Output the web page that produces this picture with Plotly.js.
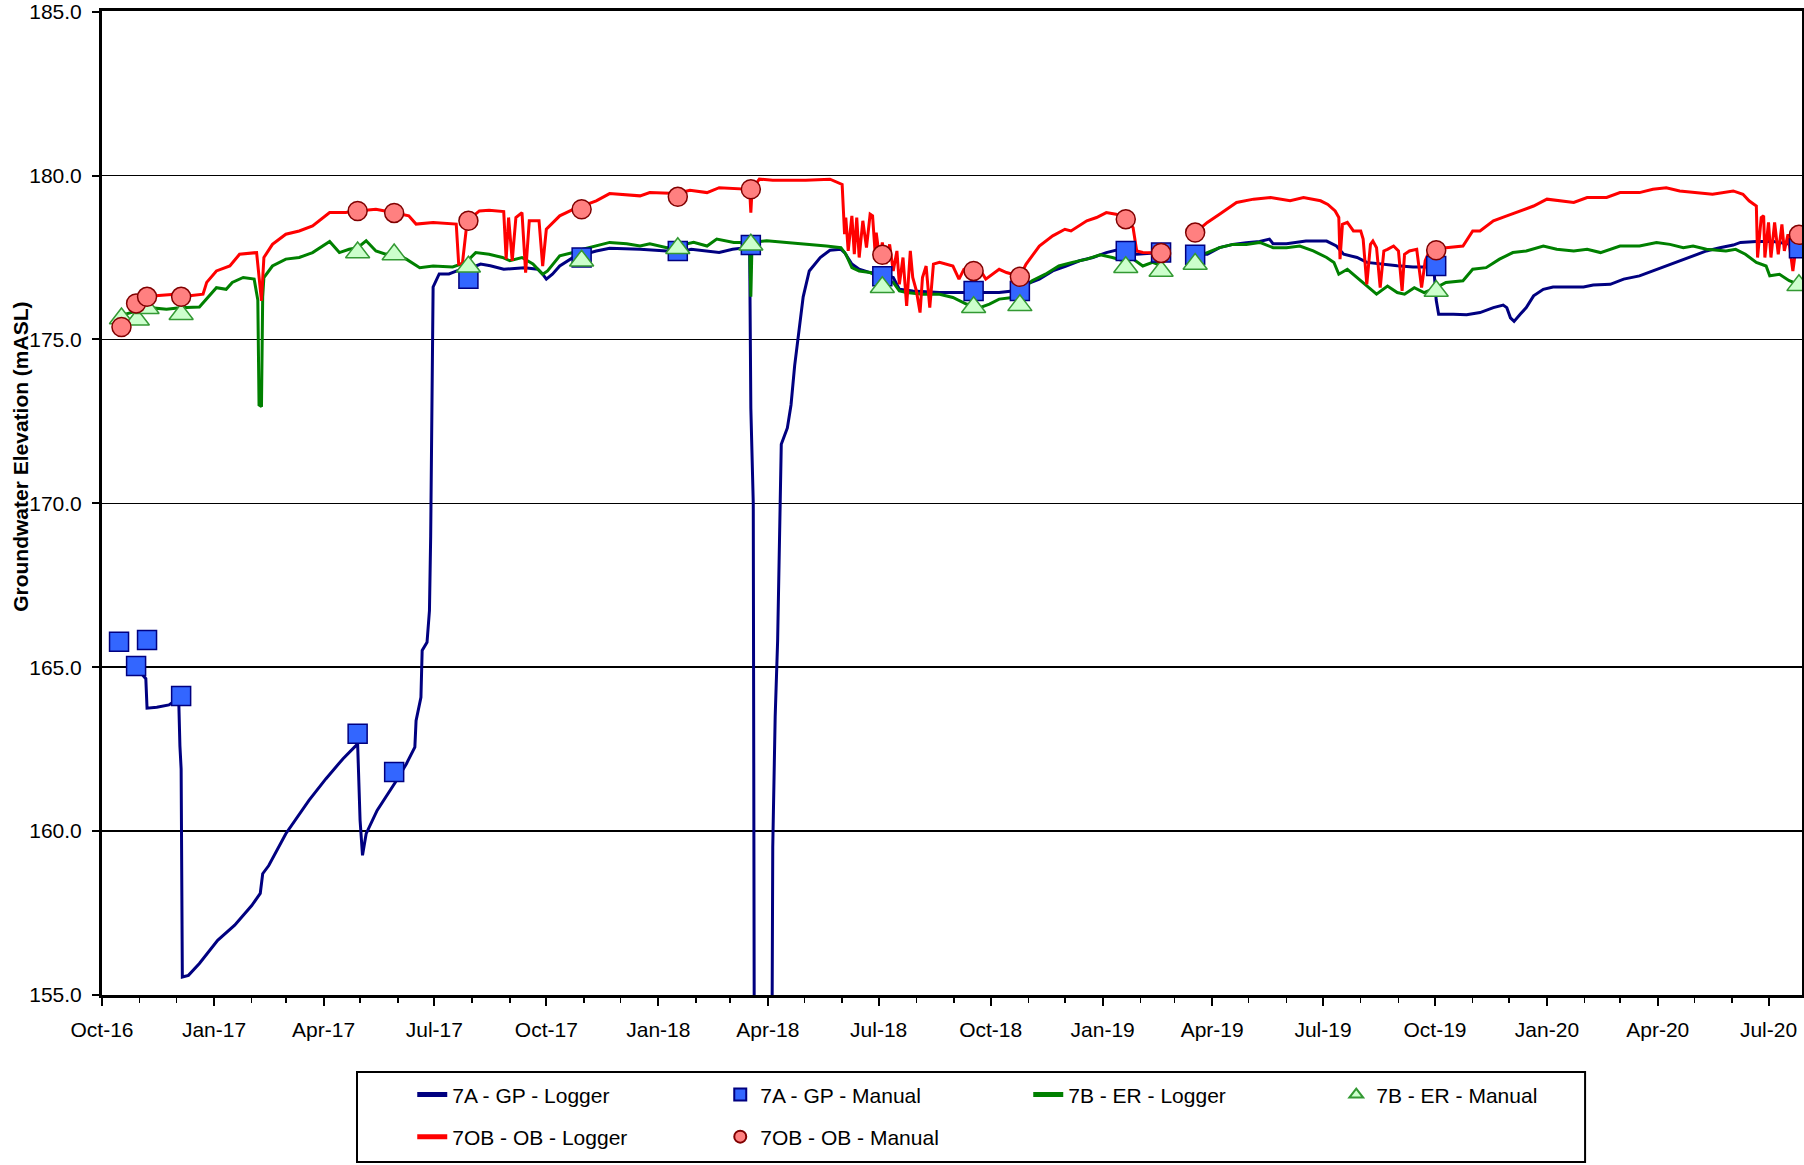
<!DOCTYPE html>
<html>
<head>
<meta charset="utf-8">
<script src="https://cdn.plot.ly/plotly-3.0.1.min.js"></script>
<style>
html, body { margin: 0; padding: 0; background: #fff; }
#chart { width: 1804px; height: 1165px; }
</style>
</head>
<body>
<div id="chart"></div>
<script>
// ---------- DATA ----------
const gpLoggerDates = ['2016-10-29','2016-11-06','2016-11-07','2016-11-15','2016-11-25','2016-12-03','2016-12-04','2016-12-05','2016-12-06','2016-12-11','2016-12-20','2017-01-04','2017-01-18','2017-02-01','2017-02-08','2017-02-10','2017-02-15','2017-03-01','2017-03-20','2017-04-03','2017-04-17','2017-04-29','2017-05-01','2017-05-03','2017-05-06','2017-05-15','2017-05-30','2017-06-08','2017-06-15','2017-06-16','2017-06-20','2017-06-21','2017-06-25','2017-06-27','2017-06-28','2017-06-29','2017-06-30','2017-07-05','2017-07-13','2017-07-20','2017-07-29','2017-08-08','2017-08-16','2017-08-27','2017-09-13','2017-09-24','2017-09-28','2017-10-01','2017-10-06','2017-10-12','2017-10-23','2017-11-11','2017-11-22','2017-12-17','2018-01-08','2018-01-17','2018-01-28','2018-02-20','2018-03-03','2018-03-14','2018-03-17','2018-03-18','2018-03-20','2018-03-21','2018-04-04','2018-04-05','2018-04-07','2018-04-09','2018-04-11','2018-04-12','2018-04-17','2018-04-20','2018-04-23','2018-04-30','2018-05-05','2018-05-14','2018-05-22','2018-05-31','2018-06-03','2018-06-09','2018-06-15','2018-06-24','2018-07-04','2018-07-13','2018-07-18','2018-07-29','2018-08-20','2018-09-11','2018-10-08','2018-10-19','2018-10-30','2018-11-10','2018-11-21','2018-12-02','2018-12-13','2018-12-24','2019-01-04','2019-01-15','2019-01-29','2019-02-18','2019-03-01','2019-03-18','2019-03-28','2019-04-07','2019-04-18','2019-04-29','2019-05-10','2019-05-18','2019-05-21','2019-06-01','2019-06-17','2019-07-04','2019-07-12','2019-07-18','2019-07-29','2019-08-06','2019-08-17','2019-08-31','2019-09-13','2019-09-30','2019-10-02','2019-10-04','2019-10-16','2019-10-27','2019-11-07','2019-11-18','2019-11-26','2019-11-29','2019-12-02','2019-12-05','2019-12-10','2019-12-15','2019-12-21','2019-12-29','2020-01-06','2020-01-17','2020-01-31','2020-02-08','2020-02-22','2020-03-04','2020-03-17','2020-03-28','2020-04-08','2020-04-19','2020-04-30','2020-05-11','2020-05-22','2020-06-02','2020-06-08','2020-06-21','2020-07-05','2020-07-19','2020-07-26','2020-07-28'];
const gpLoggerLevels = [165.0,164.65,163.75,163.78,163.85,164.05,162.6,161.9,155.55,155.6,155.96,156.67,157.13,157.73,158.1,158.7,158.95,159.92,160.94,161.6,162.21,162.66,160.33,159.26,159.92,160.63,161.49,162.05,162.56,163.37,164.08,165.51,165.76,166.73,169.0,172.0,176.6,177.0,177.0,177.1,177.15,177.3,177.25,177.14,177.19,177.14,176.99,176.84,176.99,177.24,177.5,177.7,177.78,177.75,177.7,177.65,177.75,177.65,177.75,177.8,177.85,172.9,170.0,150.0,150.0,159.5,163.5,165.8,170.4,171.8,172.3,173.0,174.2,176.3,177.09,177.5,177.72,177.75,177.65,177.3,177.14,177.04,176.99,176.89,176.53,176.48,176.43,176.43,176.43,176.48,176.68,176.84,177.09,177.24,177.4,177.5,177.65,177.75,177.6,177.65,null,177.6,177.6,177.8,177.9,177.95,177.99,178.06,177.92,177.92,178.0,178.0,177.85,177.6,177.5,177.35,177.3,177.25,177.21,177.21,176.2,175.77,175.77,175.75,175.82,175.97,176.05,175.97,175.66,175.55,175.77,175.97,176.33,176.53,176.6,176.6,176.6,176.66,176.68,176.84,176.94,177.09,177.24,177.4,177.55,177.7,177.8,177.88,177.96,177.99,177.99,177.9,177.8,177.8];

const erLoggerDates = ['2016-10-15','2016-10-29','2016-11-09','2016-11-23','2016-12-04','2016-12-20','2016-12-26','2017-01-03','2017-01-11','2017-01-16','2017-01-25','2017-02-03','2017-02-06','2017-02-07','2017-02-09','2017-02-10','2017-02-11','2017-02-18','2017-03-01','2017-03-12','2017-03-23','2017-04-06','2017-04-14','2017-04-22','2017-04-29','2017-05-06','2017-05-14','2017-05-22','2017-05-28','2017-06-08','2017-06-19','2017-06-30','2017-07-16','2017-07-27','2017-08-04','2017-08-15','2017-08-26','2017-09-01','2017-09-11','2017-09-20','2017-09-28','2017-10-02','2017-10-12','2017-10-23','2017-10-31','2017-11-11','2017-11-22','2017-12-06','2017-12-17','2017-12-25','2018-01-08','2018-01-17','2018-01-30','2018-02-10','2018-02-18','2018-03-04','2018-03-17','2018-03-18','2018-03-19','2018-03-31','2018-04-16','2018-05-02','2018-05-19','2018-05-31','2018-06-04','2018-06-09','2018-06-15','2018-06-24','2018-07-05','2018-07-13','2018-07-18','2018-07-24','2018-08-06','2018-08-20','2018-08-31','2018-09-11','2018-09-22','2018-09-30','2018-10-08','2018-10-19','2018-10-25','2018-11-04','2018-11-15','2018-11-26','2018-12-07','2018-12-19','2018-12-30','2019-01-09','2019-01-18','2019-01-26','2019-02-03','2019-02-11','2019-02-18','2019-03-01','2019-03-18','2019-03-28','2019-04-07','2019-04-18','2019-04-29','2019-05-10','2019-05-21','2019-06-01','2019-06-12','2019-06-23','2019-07-04','2019-07-10','2019-07-14','2019-07-21','2019-07-29','2019-08-06','2019-08-14','2019-08-23','2019-08-31','2019-09-06','2019-09-14','2019-09-22','2019-10-02','2019-10-10','2019-10-24','2019-11-01','2019-11-12','2019-11-23','2019-12-04','2019-12-15','2019-12-29','2020-01-09','2020-01-23','2020-02-03','2020-02-14','2020-03-01','2020-03-17','2020-03-31','2020-04-11','2020-04-22','2020-04-30','2020-05-11','2020-05-27','2020-06-04','2020-06-12','2020-06-21','2020-06-29','2020-07-02','2020-07-10','2020-07-18','2020-07-26','2020-07-28'];
const erLoggerLevels = [175.72,175.87,175.97,175.92,175.97,175.99,176.23,176.58,176.53,176.74,176.89,176.84,176.2,173.0,172.95,176.3,176.89,177.24,177.45,177.5,177.65,177.99,177.65,177.75,177.8,178.01,177.7,177.6,177.65,177.45,177.19,177.24,177.21,177.35,177.65,177.6,177.5,177.4,177.5,177.3,176.99,177.09,177.55,177.65,177.75,177.85,177.96,177.92,177.85,177.92,177.8,177.85,177.96,177.85,178.06,177.96,177.96,176.3,177.96,178.01,177.96,177.92,177.85,177.8,177.6,177.19,177.09,177.04,176.84,176.74,176.48,176.43,176.38,176.38,176.28,176.08,175.97,176.08,176.23,176.28,176.48,176.79,176.99,177.24,177.35,177.45,177.58,177.5,177.4,177.45,177.24,177.35,177.25,null,177.5,177.65,177.8,177.9,177.9,177.96,177.8,177.8,177.85,177.7,177.5,177.35,176.99,177.14,176.89,176.63,176.38,176.63,176.43,176.38,176.58,176.43,176.58,176.74,176.79,177.14,177.19,177.45,177.65,177.7,177.85,177.75,177.7,177.75,177.65,177.85,177.85,177.96,177.9,177.8,177.85,177.75,177.7,177.75,177.6,177.35,177.24,176.94,176.99,176.79,176.68,176.65];

const obLoggerDates = ['2016-10-29','2016-11-14','2016-11-30','2016-12-12','2016-12-23','2016-12-26','2017-01-03','2017-01-14','2017-01-22','2017-02-05','2017-02-09','2017-02-11','2017-02-18','2017-03-01','2017-03-12','2017-03-23','2017-04-06','2017-04-19','2017-04-29','2017-05-14','2017-05-28','2017-06-10','2017-06-16','2017-06-30','2017-07-19','2017-07-21','2017-07-24','2017-07-28','2017-08-07','2017-08-15','2017-08-27','2017-08-29','2017-08-31','2017-09-03','2017-09-06','2017-09-11','2017-09-14','2017-09-17','2017-09-25','2017-09-28','2017-10-01','2017-10-12','2017-10-23','2017-11-11','2017-11-22','2017-12-17','2017-12-25','2018-01-16','2018-01-27','2018-02-10','2018-02-20','2018-03-09','2018-03-17','2018-03-18','2018-03-19','2018-03-25','2018-04-05','2018-05-02','2018-05-22','2018-06-01','2018-06-03','2018-06-04','2018-06-06','2018-06-09','2018-06-11','2018-06-13','2018-06-15','2018-06-18','2018-06-21','2018-06-24','2018-06-26','2018-06-28','2018-06-29','2018-07-02','2018-07-04','2018-07-07','2018-07-10','2018-07-13','2018-07-16','2018-07-18','2018-07-21','2018-07-24','2018-07-27','2018-07-29','2018-08-01','2018-08-04','2018-08-06','2018-08-09','2018-08-12','2018-08-15','2018-08-20','2018-08-31','2018-09-05','2018-09-09','2018-09-17','2018-09-22','2018-09-27','2018-10-08','2018-10-14','2018-10-19','2018-10-25','2018-10-30','2018-11-10','2018-11-21','2018-12-01','2018-12-06','2018-12-19','2018-12-27','2019-01-04','2019-01-12','2019-01-19','2019-01-26','2019-01-29','2019-02-03','2019-02-11','2019-02-18','2019-03-01','2019-03-18','2019-03-28','2019-04-07','2019-04-21','2019-05-05','2019-05-19','2019-06-04','2019-06-15','2019-06-29','2019-07-05','2019-07-11','2019-07-14','2019-07-15','2019-07-17','2019-07-21','2019-07-26','2019-08-01','2019-08-03','2019-08-06','2019-08-09','2019-08-11','2019-08-14','2019-08-17','2019-08-20','2019-08-23','2019-08-28','2019-09-01','2019-09-04','2019-09-06','2019-09-10','2019-09-16','2019-09-19','2019-09-20','2019-09-23','2019-09-27','2019-10-02','2019-10-10','2019-10-24','2019-11-01','2019-11-07','2019-11-18','2019-11-29','2019-12-10','2019-12-21','2020-01-01','2020-01-12','2020-01-23','2020-02-03','2020-02-19','2020-03-01','2020-03-17','2020-03-28','2020-04-08','2020-04-19','2020-05-05','2020-05-16','2020-06-02','2020-06-10','2020-06-15','2020-06-21','2020-06-22','2020-06-25','2020-06-27','2020-06-28','2020-07-01','2020-07-03','2020-07-06','2020-07-09','2020-07-12','2020-07-14','2020-07-17','2020-07-21','2020-07-25','2020-07-28'];
const obLoggerLevels = [176.1,176.33,176.38,176.33,176.38,176.74,177.09,177.24,177.6,177.65,176.18,177.5,177.9,178.21,178.31,178.46,178.87,178.87,178.92,178.97,178.87,178.77,178.52,178.57,178.52,177.3,177.3,178.62,178.92,178.94,178.9,177.45,178.72,177.4,178.72,178.87,177.04,178.62,178.62,177.24,178.36,178.77,178.97,179.23,179.45,179.38,179.48,179.45,179.55,179.48,179.63,179.61,179.58,178.87,179.58,179.89,179.86,179.86,179.89,179.73,178.21,178.72,177.7,178.77,177.6,178.72,177.5,178.62,177.8,178.82,178.77,177.7,178.26,177.4,177.96,177.3,177.9,177.09,177.7,176.68,177.5,176.02,177.7,176.89,176.48,175.82,176.89,177.24,175.97,177.3,177.35,177.24,176.84,177.14,177.09,177.14,176.84,177.14,177.04,176.99,176.91,177.29,177.85,178.16,178.36,178.31,178.62,178.72,178.87,178.82,178.72,178.41,177.7,177.65,177.65,177.64,null,178.26,178.57,178.82,179.18,179.28,179.33,179.23,179.33,179.23,179.12,178.92,178.72,177.45,178.51,178.57,178.31,178.31,178.06,176.68,177.9,178.0,177.8,176.58,177.7,177.75,177.85,177.7,176.48,177.6,177.7,177.75,176.79,176.58,177.4,177.75,177.75,177.8,177.85,178.31,178.31,178.62,178.77,178.92,179.07,179.28,179.23,179.18,179.33,179.33,179.48,179.48,179.58,179.63,179.53,179.48,179.43,179.53,179.43,179.23,179.07,177.5,178.72,178.77,177.5,178.57,177.5,178.57,177.6,178.51,177.7,178.21,177.09,178.2,178.2];

const gpManualDates = ['2016-10-15','2016-10-29','2016-11-07','2016-12-05','2017-04-29','2017-05-29','2017-07-29','2017-10-30','2018-01-17','2018-03-18','2018-07-04','2018-09-17','2018-10-25','2019-01-20','2019-02-18','2019-03-18','2019-10-02','2020-07-26'];
const gpManualLevels = [165.78,165.04,165.83,164.12,162.97,161.8,176.85,177.5,177.7,177.88,176.93,176.48,176.48,177.7,177.65,177.58,177.24,177.78];

const erManualDates = ['2016-10-17','2016-10-30','2016-11-07','2016-12-05','2017-04-29','2017-05-29','2017-07-29','2017-10-30','2018-01-17','2018-03-18','2018-07-04','2018-09-17','2018-10-25','2019-01-20','2019-02-18','2019-03-18','2019-10-02','2020-07-26'];
const erManualLevels = [175.64,175.6,175.95,175.77,177.65,177.59,177.22,177.4,177.78,177.89,176.59,175.98,176.04,177.2,177.09,177.3,176.48,176.65];

const obManualDates = ['2016-10-17','2016-10-29','2016-11-07','2016-12-05','2017-04-29','2017-05-29','2017-07-29','2017-10-30','2018-01-17','2018-03-18','2018-07-04','2018-09-17','2018-10-25','2019-01-20','2019-02-18','2019-03-18','2019-10-02','2020-07-26'];
const obManualLevels = [175.38,176.1,176.3,176.3,178.92,178.86,178.62,178.97,179.35,179.58,177.58,177.09,176.91,178.67,177.64,178.26,177.72,178.19];

const seriesNames = ['7A - GP - Logger','7A - GP - Manual','7B - ER - Logger','7B - ER - Manual','7OB - OB - Logger','7OB - OB - Manual'];
const yAxisLabel = 'Groundwater Elevation (mASL)';

// ---------- CHART ----------
const FONT = 'Liberation Sans, Arial, Helvetica, sans-serif';

const traces = [
  { x: gpLoggerDates, y: gpLoggerLevels, name: seriesNames[0], type: 'scatter', mode: 'lines',
    line: { color: '#000080', width: 3 }, legend: 'legend', legendrank: 1 },
  { x: erLoggerDates, y: erLoggerLevels, name: seriesNames[2], type: 'scatter', mode: 'lines',
    line: { color: '#008000', width: 3 }, legend: 'legend', legendrank: 3 },
  { x: obLoggerDates, y: obLoggerLevels, name: seriesNames[4], type: 'scatter', mode: 'lines',
    line: { color: '#FF0000', width: 3 }, legend: 'legend2', legendrank: 1 },
  { x: gpManualDates, y: gpManualLevels, name: seriesNames[1], type: 'scatter', mode: 'markers',
    marker: { symbol: 'square', size: 19, color: '#3366FF', line: { color: '#000080', width: 1.5 } },
    legend: 'legend', legendrank: 2 },
  { x: erManualDates, y: erManualLevels, name: seriesNames[3], type: 'scatter', mode: 'markers',
    marker: { symbol: 'triangle-up', size: 21, color: '#CCFFCC', line: { color: '#339933', width: 1.5 } },
    legend: 'legend', legendrank: 4 },
  { x: obManualDates, y: obManualLevels, name: seriesNames[5], type: 'scatter', mode: 'markers',
    marker: { symbol: 'circle', size: 19, color: '#FF8080', line: { color: '#800000', width: 1.5 } },
    legend: 'legend2', legendrank: 2 }
];

const legendCommon = {
  orientation: 'h', xref: 'paper', yref: 'paper', xanchor: 'left', yanchor: 'middle',
  entrywidth: 263, entrywidthmode: 'pixels', itemsizing: 'constant', traceorder: 'normal',
  bgcolor: 'rgba(0,0,0,0)', borderwidth: 0,
  font: { family: FONT, size: 21, color: '#000' }
};

const layout = {
  width: 1804, height: 1165,
  margin: { l: 102, r: 2, t: 11, b: 170, pad: 0 },
  paper_bgcolor: '#fff', plot_bgcolor: '#fff',
  font: { family: FONT, size: 21, color: '#000' },
  showlegend: true,
  xaxis: {
    type: 'date', range: ['2016-10-01', '2020-07-28 12:00'],
    tick0: '2016-10-01', dtick: 'M3', tickformat: '%b-%y',
    ticks: 'outside', ticklen: 8, tickwidth: 2, tickcolor: '#000',
    ticklabelstandoff: 6,
    minor: { dtick: 'M1', ticks: 'outside', ticklen: 5, tickwidth: 1.5, tickcolor: '#000', showgrid: false },
    showgrid: false, zeroline: false,
    showline: true, linecolor: '#000', linewidth: 3, mirror: true,
    tickfont: { family: FONT, size: 21, color: '#000' }
  },
  yaxis: {
    range: [155, 185.02], tick0: 155, dtick: 5, tickformat: '.1f',
    ticks: 'outside', ticklen: 7, tickwidth: 2, tickcolor: '#000',
    ticklabelstandoff: 6,
    showgrid: true, gridcolor: '#000', gridwidth: 1.5,
    zeroline: false,
    showline: true, linecolor: '#000', linewidth: 3, mirror: true,
    tickfont: { family: FONT, size: 21, color: '#000' }
  },
  legend: Object.assign({}, legendCommon, { x: 0.1825, y: -0.1016 }),
  legend2: Object.assign({}, legendCommon, { x: 0.1825, y: -0.1443 }),
  shapes: [
    { type: 'rect', xref: 'paper', yref: 'paper', x0: 0.15, x1: 0.8724, y0: -0.0782, y1: -0.1697,
      line: { color: '#000', width: 2 }, fillcolor: 'rgba(0,0,0,0)', layer: 'above' }
  ],
  annotations: [
    { text: '<b>' + yAxisLabel + '</b>', xref: 'paper', yref: 'paper', x: -0.0476, y: 0.547,
      xanchor: 'center', yanchor: 'middle', textangle: -90, showarrow: false,
      font: { family: FONT, size: 21, color: '#000' } }
  ]
};

Plotly.newPlot('chart', traces, layout, { displayModeBar: false, staticPlot: true });
</script>
</body>
</html>
